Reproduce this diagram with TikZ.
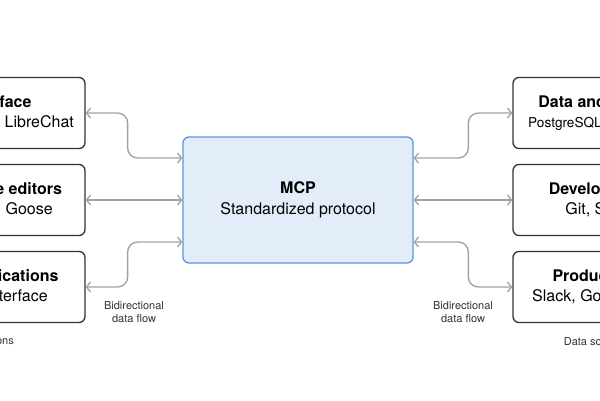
\documentclass[tikz,border=0pt]{standalone}
\usepackage{fontspec}
\setmainfont{TeX Gyre Heros}
\usetikzlibrary{arrows.meta}

\definecolor{boxline}{HTML}{333333}
\definecolor{hubfill}{HTML}{E3EDF9}
\definecolor{hubline}{HTML}{5A98DE}
\definecolor{linkgray}{HTML}{A3A3A3}
\definecolor{notetext}{HTML}{333333}

\tikzset{
  endpoint/.style={draw=boxline, line width=1.3pt, rounded corners=6pt, fill=white,
    minimum width=214pt, minimum height=71pt, align=center,
    font=\fontsize{16}{20}\selectfont, text=black},
  hub/.style={draw=hubline, line width=1.3pt, rounded corners=6pt, fill=hubfill,
    minimum width=230pt, minimum height=126pt, align=center,
    font=\fontsize{16}{21}\selectfont, text=black},
  link/.style={draw=linkgray, line width=1.4pt, rounded corners=10pt,
    {Straight Barb[length=4pt,width=10pt,line width=1.3pt]}-{Straight Barb[length=4pt,width=10pt,line width=1.3pt]}},
  note/.style={font=\fontsize{11}{12.5}\selectfont, text=notetext, align=center}
}

\begin{document}
\begin{tikzpicture}[x=1pt,y=-1pt]
  \useasboundingbox (0,0) rectangle (600,400);
  \clip (0,0) rectangle (600,400);

  % MCP hub
  \node[hub] (hub) at (298,200) {\textbf{MCP}\\Standardized protocol};

  % AI applications (left column)
  \node[endpoint] (l1) at (-22,113) {\textbf{Chat interface}\\Claude Desktop, LibreChat};
  \node[endpoint] (l2) at (-22,200) {\textbf{IDEs and code editors}\\Claude Code, Goose};
  \node[endpoint] (l3) at (-22,287) {\textbf{Other AI applications}\\5ire, Superinterface};
  \node[note] (lcap) at (-22,342) {AI applications};

  % Data sources and tools (right column)
  \node[endpoint] (r1) at (620,113) {\textbf{Data and file systems}\\{\fontsize{13.6}{20}\selectfont PostgreSQL, SQLite, files, etc.}};
  \node[endpoint] (r2) at (620,200) {\textbf{Development tools}\\Git, Sentry, etc.};
  \node[endpoint] (r3) at (620,287) {\textbf{Productivity tools}\\Slack, Google Drive, etc.};
  \node[note] (rcap) at (620,342) {Data sources and tools};

  % Bidirectional connectors
  \draw[link] (l1.east) -- ++(42,0) |- ([yshift=42pt]hub.west);
  \draw[link] (l2.east) -- (hub.west);
  \draw[link] (l3.east) -- ++(42,0) |- ([yshift=-42pt]hub.west);

  \draw[link] (r1.west) -- ++(-44,0) |- ([yshift=42pt]hub.east);
  \draw[link] (r2.west) -- (hub.east);
  \draw[link] (r3.west) -- ++(-44,0) |- ([yshift=-42pt]hub.east);

  \node[note] (lflow) at (134,312) {Bidirectional\\data flow};
  \node[note] (rflow) at (463,312) {Bidirectional\\data flow};
\end{tikzpicture}
\end{document}
